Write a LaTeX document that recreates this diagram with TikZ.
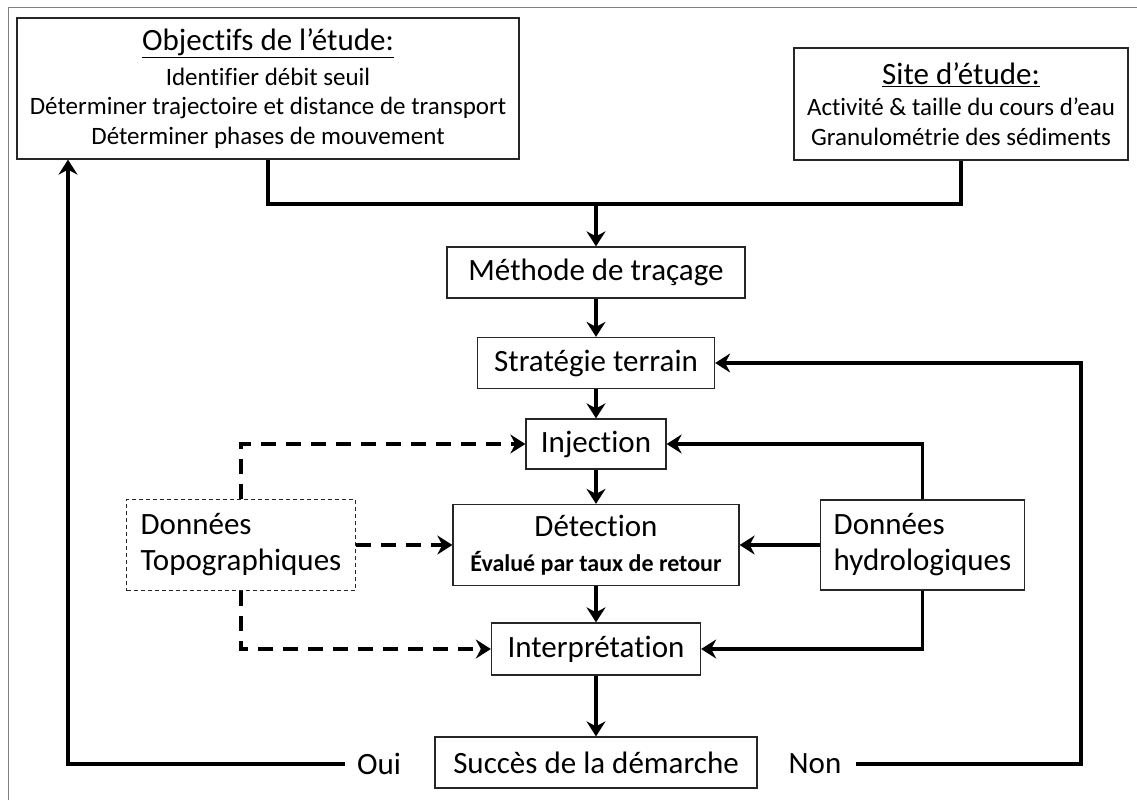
\documentclass[tikz,border=0pt]{standalone}
\usepackage{xcolor}
\usepackage{fontspec}
\setmainfont{Carlito}[Ligatures=NoCommon]
\usetikzlibrary{arrows.meta}

\newcommand{\bigtxt}{\fontsize{31}{36}\selectfont}
\newcommand{\bodytxt}{\fontsize{25}{29.5}\selectfont}
\newcommand{\smallbold}{\fontsize{24}{28}\selectfont\bfseries}

\tikzset{
	box/.style={draw=black!85, line width=1.3pt, fill=white, inner sep=0pt, font=\bigtxt},
	dashbox/.style={draw=black!85, line width=1pt, dash pattern=on 4pt off 3pt, align=left, inner xsep=14pt, font=\bigtxt},
	line/.style={line width=3.5pt, line join=miter},
	flow/.style={line, -{Stealth[length=15pt, width=19pt, inset=5pt]}},
	dashflow/.style={flow, dash pattern=on 15pt off 10pt},
}

\begin{document}
\begin{tikzpicture}[x=1pt, y=-1pt]
		\useasboundingbox (0,0) rectangle (1137,800);
		\draw[gray, line width=1pt] (8,800) -- (8,8) -- (1137,8);

		\node[box, align=center, font=\bodytxt, minimum width=502pt, minimum height=141pt] (objectifs) at (268,88.5)
			{{\bigtxt\underline{Objectifs de l’étude:}}\\[5pt] Identifier débit seuil\\ Déterminer trajectoire et distance de transport\\ Déterminer phases de mouvement};
		\node[box, align=center, font=\bodytxt, minimum width=334pt, minimum height=112pt] (site) at (961,104)
			{{\bigtxt\underline{Site d’étude:}}\\[2pt] Activité \& taille du cours d’eau\\ Granulométrie des sédiments};

		\node[box, minimum width=298pt, minimum height=51pt] (methode) at (596,272.5) {Méthode de traçage};
		\node[box, minimum width=237pt, minimum height=51pt] (strategie) at (596,363) {Stratégie terrain};
		\node[box, minimum width=140pt, minimum height=50pt] (injection) at (596,444) {Injection};
		\node[box, align=center, minimum width=286pt, minimum height=81pt] (detection) at (596,545)
			{Détection\\[-1pt] {\smallbold Évalué par taux de retour}};
		\node[box, minimum width=209pt, minimum height=52pt] (interpretation) at (596,649) {Interprétation};
		\node[box, minimum width=322pt, minimum height=51pt] (succes) at (596,762.5) {Succès de la démarche};

		\node[dashbox, minimum height=91pt] (topo) at (241,545) {Données\\ Topographiques};
		\node[box, align=left, inner xsep=13pt, minimum height=90pt] (hydro) at (922.5,545) {Données\\ hydrologiques};

		\node[font=\bigtxt, inner xsep=12pt] (oui) at (379,764) {Oui};
		\node[font=\bigtxt, inner xsep=14pt] (non) at (815,764) {Non};

		\coordinate (join) at (596,204);
		\coordinate (ouicorner) at (68,764);
		\coordinate (noncorner) at (1081,764);

		\draw[line] (objectifs.south) |- (join) -| (site.south);
		\draw[flow] (join) -- (methode.north);
		\draw[flow] (methode) -- (strategie);
		\draw[flow] (strategie) -- (injection);
		\draw[flow] (injection) -- (detection);
		\draw[flow] (detection) -- (interpretation);
		\draw[flow] (interpretation) -- (succes);

		\draw[flow] (hydro.north) |- (injection.east);
		\draw[flow] (hydro.west) -- (detection.east);
		\draw[flow] (hydro.south) |- (interpretation.east);

		\draw[dashflow] (topo.north) |- (injection.west);
		\draw[dashflow] (topo.east) -- (detection.west);
		\draw[dashflow] (topo.south) |- (interpretation.west);

		\draw[flow] (oui.west) -- (ouicorner) -- (ouicorner |- objectifs.south);
		\draw[flow] (non.east) -- (noncorner) |- (strategie.east);
	\end{tikzpicture}
\end{document}
